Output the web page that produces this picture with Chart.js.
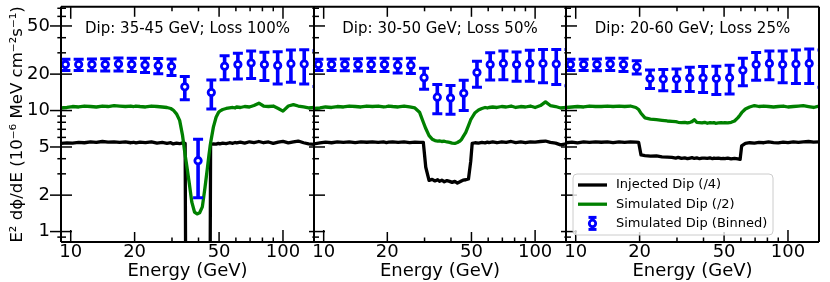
<!DOCTYPE html>
<html>
<head>
<meta charset="utf-8">
<script src="https://cdn.jsdelivr.net/npm/chart.js@4"></script>
<style>
  html, body { margin: 0; padding: 0; background: #fff; }
  #wrap { position: relative; width: 830px; height: 282px; }
  #wrap canvas { position: absolute; left: 0; top: 0; }
</style>
</head>
<body>
<div id="wrap">
  <canvas id="p1" width="830" height="282"></canvas>
  <canvas id="p2" width="830" height="282"></canvas>
  <canvas id="p3" width="830" height="282"></canvas>
</div>
<script>
// ===== DATA =====
const seriesNames = ["Injected Dip (/4)", "Simulated Dip (/2)", "Simulated Dip (Binned)"];
const dipLabels = ["Dip: 35-45 GeV; Loss 100%", "Dip: 30-50 GeV; Loss 50%", "Dip: 20-60 GeV; Loss 25%"];

const xTickLabels = [10, 20, 50, 100];
const xMinorTicks = [9, 30, 40, 60, 70, 80, 90];
const yTickLabels = [1, 2, 5, 10, 20, 50];
const yMinorTicks = [0.9, 3, 4, 6, 7, 8, 9, 30, 40, 60, 70];

// energies of the smooth curves (GeV)
const lineEnergy = [9.0, 9.6, 10.2, 10.9, 11.6, 12.4, 13.2, 14.1, 15.0, 16.0,
  17.0, 18.1, 19.2, 19.8, 20.3, 21.2, 22.5, 24.0, 25.5, 27.0,
  28.4, 29.6, 30.4, 31.5, 32.6, 33.6, 34.6, 35.3, 36.2, 37.2,
  38.3, 39.4, 40.5, 41.7, 42.9, 44.1, 44.8, 45.6, 47.0, 48.4,
  49.6, 50.4, 52.0, 54.0, 56.0, 58.0, 59.5, 60.5, 63.0, 66.0,
  69.5, 73.0, 77.0, 81.0, 85.5, 90.0, 95.0, 100, 106, 112,
  118, 125, 132, 140];

// panel 1: 35-45 GeV, 100% loss (0.001 = no flux, off the axis)
const injected1 = [5.35, 5.40, 5.38, 5.45, 5.42, 5.50, 5.46, 5.55, 5.48, 5.52,
  5.45, 5.50, 5.42, 5.47, 5.40, 5.48, 5.44, 5.52, 5.38, 5.45,
  5.36, 5.42, 5.30, 5.38, 5.32, 5.40, 5.35, 0.001, 0.001, 0.001,
  0.001, 0.001, 0.001, 0.001, 0.001, 0.001, 0.001, 5.25, 5.30, 5.28,
  5.35, 5.30, 5.38, 5.33, 5.42, 5.36, 5.45, 5.40, 5.48, 5.38,
  5.52, 5.44, 5.55, 5.42, 5.50, 5.35, 5.48, 5.56, 5.40, 5.50,
  5.60, 5.42, 5.30, 5.25];
const simulated1 = [10.5, 10.6, 10.8, 10.7, 10.9, 10.8, 10.7, 10.9, 10.8, 11.0,
  10.9, 10.8, 10.9, 10.8, 10.9, 10.8, 10.7, 10.9, 10.8, 10.7,
  10.6, 10.4, 10.1, 9.4, 8.3, 6.3, 4.3, 3.4, 2.5, 1.75,
  1.45, 1.40, 1.43, 1.6, 2.3, 3.4, 4.3, 5.4, 7.3, 8.8,
  9.6, 9.9, 10.2, 10.4, 10.5, 10.6, 10.5, 10.7, 10.6, 10.8,
  10.7, 11.0, 11.5, 10.9, 10.8, 10.9, 10.4, 9.9, 10.9, 11.2,
  10.9, 10.7, 10.5, 10.6];

// panel 2: 30-50 GeV, 50% loss
const injected2 = [5.30, 5.40, 5.48, 5.42, 5.50, 5.46, 5.52, 5.44, 5.50, 5.47,
  5.52, 5.45, 5.50, 5.44, 5.48, 5.52, 5.46, 5.50, 5.44, 5.48,
  5.45, 5.45, 3.4, 2.65, 2.70, 2.62, 2.68, 2.60, 2.66, 2.58,
  2.64, 2.60, 2.55, 2.60, 2.52, 2.58, 2.62, 2.66, 2.68, 2.72,
  3.8, 5.35, 5.42, 5.38, 5.45, 5.40, 5.48, 5.44, 5.50, 5.42,
  5.52, 5.46, 5.55, 5.44, 5.50, 5.42, 5.52, 5.48, 5.55, 5.60,
  5.45, 5.38, 5.20, 5.30];
const simulated2 = [10.4, 10.5, 10.7, 10.6, 10.8, 10.7, 10.9, 10.8, 10.7, 10.9,
  10.8, 10.9, 10.7, 10.8, 10.9, 10.8, 10.7, 10.9, 10.7, 10.5,
  9.7, 8.0, 7.1, 6.2, 5.8, 5.65, 5.6, 5.62, 5.55, 5.58,
  5.5, 5.45, 5.38, 5.35, 5.45, 5.6, 5.75, 6.05, 6.6, 7.5,
  8.4, 8.8, 9.6, 10.1, 10.4, 10.6, 10.5, 10.6, 10.7, 10.6,
  10.8, 10.7, 10.9, 10.6, 10.8, 10.7, 10.9, 10.6, 11.0, 11.8,
  11.0, 10.8, 10.5, 10.6];

// panel 3: 20-60 GeV, 25% loss
const injected3 = [5.42, 5.48, 5.40, 5.50, 5.45, 5.52, 5.47, 5.50, 5.44, 5.52,
  5.46, 5.50, 5.48, 5.45, 4.30, 4.25, 4.20, 4.22, 4.15, 4.12,
  4.10, 4.05, 4.10, 4.02, 4.06, 4.00, 4.05, 4.08, 4.02, 4.06,
  4.00, 4.04, 4.05, 4.02, 4.06, 4.00, 4.05, 4.02, 4.05, 4.00,
  4.02, 4.00, 4.04, 3.98, 4.02, 3.98, 3.95, 5.10, 5.35, 5.42,
  5.38, 5.46, 5.42, 5.50, 5.44, 5.40, 5.48, 5.44, 5.52, 5.46,
  5.50, 5.55, 5.48, 5.52];
const simulated3 = [10.6, 10.7, 10.8, 10.7, 10.9, 10.8, 10.8, 10.9, 10.8, 10.9,
  10.8, 10.9, 10.6, 10.2, 9.5, 8.7, 8.5, 8.4, 8.3, 8.2,
  8.15, 8.1, 8.0, 7.95, 8.0, 7.9, 8.0, 8.1, 8.4, 8.0,
  7.95, 7.9, 8.0, 7.85, 7.95, 7.9, 7.95, 7.85, 7.9, 7.95,
  7.9, 7.95, 7.9, 8.0, 8.2, 8.7, 9.2, 9.6, 10.3, 10.7,
  11.0, 10.8, 10.9, 10.8, 10.7, 10.8, 10.9, 10.7, 10.8, 10.9,
  11.0, 10.8, 10.6, 10.9];

// binned points (GeV) with +- errors
const binEnergy = [9.44, 10.9, 12.59, 14.54, 16.79, 19.39, 22.39, 25.85, 29.85, 34.47,
  39.81, 45.97, 53.09, 61.31, 70.79, 81.75, 94.41, 109.0, 125.9, 145.4];
const binned1 = [24.0, 24.0, 24.0, 24.0, 24.2, 24.0, 23.8, 23.5, 23.1, 15.7,
  3.85, 14.1, 23.2, 24.0, 24.7, 24.0, 23.6, 24.4, 24.2, 23.6];
const binErr1 = [2.6, 2.6, 2.7, 2.8, 3.0, 3.0, 3.2, 3.4, 3.6, 3.4,
  1.95, 3.8, 5.2, 5.8, 6.3, 6.3, 7.0, 7.3, 7.6, 7.8];
const binned2 = [24.0, 24.0, 24.0, 24.0, 24.0, 24.0, 23.6, 23.6, 18.7, 12.9,
  12.7, 13.9, 20.6, 24.0, 24.5, 24.0, 24.5, 24.5, 24.2, 24.0];
const binErr2 = [2.6, 2.6, 2.7, 2.8, 3.0, 3.0, 3.2, 3.4, 3.7, 3.5,
  3.4, 3.9, 5.0, 6.1, 6.5, 6.5, 7.0, 7.5, 7.8, 8.0];
const binned3 = [24.0, 24.0, 24.0, 24.2, 24.0, 22.9, 18.4, 18.2, 18.2, 18.6,
  18.6, 18.4, 18.7, 21.5, 24.0, 24.5, 24.0, 24.2, 24.5, 23.6];
const binErr3 = [2.6, 2.6, 2.7, 2.8, 3.0, 2.9, 3.2, 3.6, 3.8, 4.2,
  4.5, 4.8, 5.0, 5.5, 6.2, 6.5, 7.0, 7.5, 7.8, 8.0];

// ===== LAYOUT =====
const panelLeft = [61, 314, 566];
const panelRight = [314, 566, 819];

Chart.defaults.font.family = '"DejaVu Sans", sans-serif';
Chart.defaults.color = "#000";

function line(ctx, x1, y1, x2, y2) {
    ctx.beginPath();
    ctx.moveTo(x1, y1);
    ctx.lineTo(x2, y2);
    ctx.stroke();
}

// ===== ERROR BARS, TICKS, FRAME, LEGEND =====
const panelDeco = {
    id: "deco",
    beforeDatasetDraw(chart, args) {
        const ds = chart.data.datasets[args.index];
        if (!ds.errors) return;
        const ctx = chart.ctx, a = chart.chartArea;
        const xs = chart.scales.x, ys = chart.scales.y;
        ctx.save();
        ctx.beginPath();
        ctx.rect(a.left, a.top, a.right - a.left, a.bottom - a.top);
        ctx.clip();
        ctx.strokeStyle = ds.pointBorderColor;
        ds.data.forEach((p, i) => {
            const px = xs.getPixelForValue(p.x);
            const top = ys.getPixelForValue(p.y + ds.errors[i]);
            const bot = ys.getPixelForValue(p.y - ds.errors[i]);
            ctx.lineWidth = 3.6;
            line(ctx, px, top, px, bot);
            ctx.lineWidth = 3;
            line(ctx, px - 5, top, px + 5, top);
            line(ctx, px - 5, bot, px + 5, bot);
        });
        ctx.restore();
    },
    afterDraw(chart, args, opts) {
        const ctx = chart.ctx, a = chart.chartArea;
        const xs = chart.scales.x, ys = chart.scales.y;
        ctx.save();
        ctx.setLineDash([]);
        ctx.strokeStyle = "#000000";

        // frame
        ctx.lineWidth = 2;
        line(ctx, a.left, a.top, a.right, a.top);
        line(ctx, a.left, a.bottom, a.right, a.bottom);
        line(ctx, a.left, a.top, a.left, a.bottom);
        line(ctx, a.right, a.top, a.right, a.bottom);

        // x ticks, top and bottom, pointing in
        ctx.lineWidth = 1.5;
        xTickLabels.forEach(v => {
            const px = xs.getPixelForValue(v);
            const len = (v === 10 || v === 100) ? 12 : 10;
            line(ctx, px, a.bottom, px, a.bottom - len);
            line(ctx, px, a.top, px, a.top + len);
        });
        xMinorTicks.forEach(v => {
            const px = xs.getPixelForValue(v);
            line(ctx, px, a.bottom, px, a.bottom - 4.5);
            line(ctx, px, a.top, px, a.top + 4.5);
        });

        // y ticks on the left edge, in and out
        yTickLabels.forEach(v => {
            const py = ys.getPixelForValue(v);
            line(ctx, a.left - opts.leftOut, py, a.left + 11, py);
        });
        yMinorTicks.forEach(v => {
            const py = ys.getPixelForValue(v);
            line(ctx, a.left - opts.leftOut / 3, py, a.left + 5, py);
        });

        // dip annotation
        ctx.fillStyle = "#000000";
        ctx.font = '15px "DejaVu Sans"';
        ctx.textAlign = "center";
        ctx.textBaseline = "middle";
        ctx.fillText(opts.label, (a.left + a.right) / 2, a.top + 22);

        // legend
        if (opts.legend) {
            const bx = a.left + 7, by = a.bottom - 68, bw = 200, bh = 61;
            ctx.beginPath();
            ctx.roundRect(bx, by, bw, bh, 4);
            ctx.fillStyle = "rgba(255,255,255,0.8)";
            ctx.fill();
            ctx.strokeStyle = "#cccccc";
            ctx.lineWidth = 1;
            ctx.stroke();
            ctx.font = '13px "DejaVu Sans"';
            ctx.textAlign = "left";
            [2, 1, 0].forEach((di, row) => {
                const ds = chart.data.datasets[di];
                const cy = by + 11 + row * 19.2;
                if (ds.errors) {
                    const cx = bx + 19.5;
                    ctx.strokeStyle = ds.pointBorderColor;
                    ctx.lineWidth = 3.6;
                    line(ctx, cx, cy - 6, cx, cy + 6);
                    ctx.lineWidth = 3;
                    line(ctx, cx - 4, cy - 6, cx + 4, cy - 6);
                    line(ctx, cx - 4, cy + 6, cx + 4, cy + 6);
                    ctx.beginPath();
                    ctx.arc(cx, cy, ds.pointRadius, 0, Math.PI * 2);
                    ctx.fillStyle = ds.pointBackgroundColor;
                    ctx.fill();
                    ctx.lineWidth = ds.pointBorderWidth;
                    ctx.stroke();
                } else {
                    ctx.strokeStyle = ds.borderColor;
                    ctx.lineWidth = ds.borderWidth;
                    line(ctx, bx + 5, cy, bx + 34, cy);
                }
                ctx.fillStyle = "#000000";
                ctx.fillText(ds.label, bx + 43, cy);
            });
        }
        ctx.restore();
    }
};

// ===== PANELS =====
function makePanel(canvasId, idx, inj, sim, bins, errs) {
    const first = idx === 0;
    return new Chart(document.getElementById(canvasId), {
        type: "scatter",
        data: {
            datasets: [{
                label: seriesNames[2],
                data: binEnergy.map((e, i) => ({ x: e, y: bins[i] })),
                errors: errs,
                pointRadius: 3.2,
                pointBorderWidth: 2.8,
                pointBackgroundColor: "#ffffff",
                pointBorderColor: "#0000ff",
                order: 0
            }, {
                label: seriesNames[1],
                data: lineEnergy.map((e, i) => ({ x: e, y: sim[i] })),
                showLine: true,
                borderColor: "#008000",
                borderWidth: 3.3,
                borderJoinStyle: "round",
                pointRadius: 0,
                order: 1
            }, {
                label: seriesNames[0],
                data: lineEnergy.map((e, i) => ({ x: e, y: inj[i] })),
                showLine: true,
                borderColor: "#000000",
                borderWidth: 3.3,
                borderJoinStyle: "round",
                pointRadius: 0,
                order: 2
            }]
        },
        options: {
            responsive: false,
            animation: false,
            devicePixelRatio: 1,
            events: [],
            layout: {
                padding: {
                    left: first ? 0 : panelLeft[idx],
                    right: 830 - panelRight[idx],
                    top: 6,
                    bottom: 0
                }
            },
            plugins: {
                legend: { display: false },
                tooltip: { enabled: false },
                deco: {
                    label: dipLabels[idx],
                    legend: idx === 2,
                    leftOut: first ? 11 : 5
                }
            },
            scales: {
                x: {
                    type: "logarithmic",
                    min: 9,
                    max: 140,
                    bounds: "data",
                    afterBuildTicks: s => { s.ticks = xTickLabels.map(v => ({ value: v })); },
                    afterFit: s => { s.height = 40; s.paddingLeft = 0; s.paddingRight = 0; },
                    grid: { display: false, drawTicks: false },
                    border: { display: false },
                    ticks: {
                        autoSkip: false,
                        maxRotation: 0,
                        padding: 0,
                        font: { size: 18 },
                        callback: v => String(v)
                    },
                    title: {
                        display: true,
                        text: "Energy (GeV)",
                        font: { size: 18 },
                        padding: { top: 0, bottom: 0 }
                    }
                },
                y: {
                    type: "logarithmic",
                    display: first,
                    min: 0.82,
                    max: 72,
                    bounds: "data",
                    afterBuildTicks: s => { s.ticks = yTickLabels.map(v => ({ value: v })); },
                    afterFit: s => {
                        if (first) s.width = 61;
                        s.paddingTop = 0;
                        s.paddingBottom = 0;
                    },
                    grid: { display: false, drawTicks: false },
                    border: { display: false },
                    ticks: {
                        autoSkip: false,
                        padding: 11,
                        font: { size: 18 },
                        callback: v => String(v)
                    },
                    title: {
                        display: true,
                        text: "E\u00b2 d\u03d5/dE (10\u207b\u2076 MeV cm\u207b\u00b2s\u207b\u00b9)",
                        font: { size: 16.6 },
                        padding: { top: 7.5, bottom: 0 }
                    }
                }
            }
        },
        plugins: [panelDeco]
    });
}

makePanel("p1", 0, injected1, simulated1, binned1, binErr1);
makePanel("p2", 1, injected2, simulated2, binned2, binErr2);
makePanel("p3", 2, injected3, simulated3, binned3, binErr3);
</script>
</body>
</html>
